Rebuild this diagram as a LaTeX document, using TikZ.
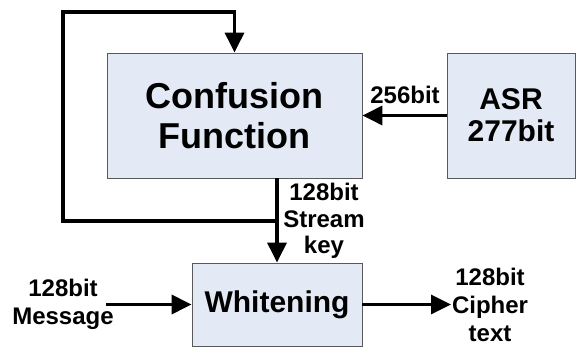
\documentclass[tikz,border=0pt]{standalone}
\usepackage{fontspec}
\setmainfont{Liberation Sans}
\usetikzlibrary{arrows.meta,positioning}
\definecolor{blockfill}{HTML}{E4EAF5}
\tikzset{
  block/.style={draw=black!65, fill=blockfill, line width=0.8pt, inner sep=0pt, align=center},
  flow/.style={line width=3.3pt, -{Triangle[length=20pt,width=19pt]}},
  lbl/.style={font=\bfseries\fontsize{24}{28}\selectfont, align=center, inner sep=0pt},
}

\begin{document}
\begin{tikzpicture}[x=1pt,y=-1pt]
  \useasboundingbox (0,0) rectangle (576,347);
  % boxes
  \node [block, minimum width=255pt, minimum height=125pt,
         font=\bfseries\fontsize{36}{40}\selectfont] (cf) at (234.5,115.5) {Confusion\\Function};
  \node [block, minimum width=128pt, minimum height=125pt,
         font=\bfseries\fontsize{30}{32}\selectfont] (asr) at (511,115.5) {ASR\\277bit};
  \node [block, minimum width=170pt, minimum height=83pt,
         font=\bfseries\fontsize{30}{32}\selectfont] (wh) at (277,304.5) {Whitening};
  % labels
  \node [lbl] (asrlbl) at (405,95) {256bit};
  \node [lbl, font=\bfseries\fontsize{24}{26.5}\selectfont] (keylbl) at (324,221) {128bit\\Stream\\key};
  \node [lbl] (msglbl) at (63,304) {128bit\\Message};
  \node [lbl] (ctlbl) at (490,305) {128bit\\Cipher\\text};
  \coordinate (tap) at (wh.north |- 0,221);
  \coordinate (loop) at (63,12);
  \coordinate (msgin) at (wh.west -| 106,0);
  \coordinate (ctout) at (wh.east -| 451,0);
  % connectors
  \draw [flow] (asr.west) -- (cf.east);
  \draw [flow] (wh.north |- cf.south) -- (wh.north);
  \draw [flow] (tap) -| (loop) -| (cf.north);
  \draw [flow] (msgin) -- (wh.west);
  \draw [flow] (wh.east) -- (ctout);
\end{tikzpicture}
\end{document}
